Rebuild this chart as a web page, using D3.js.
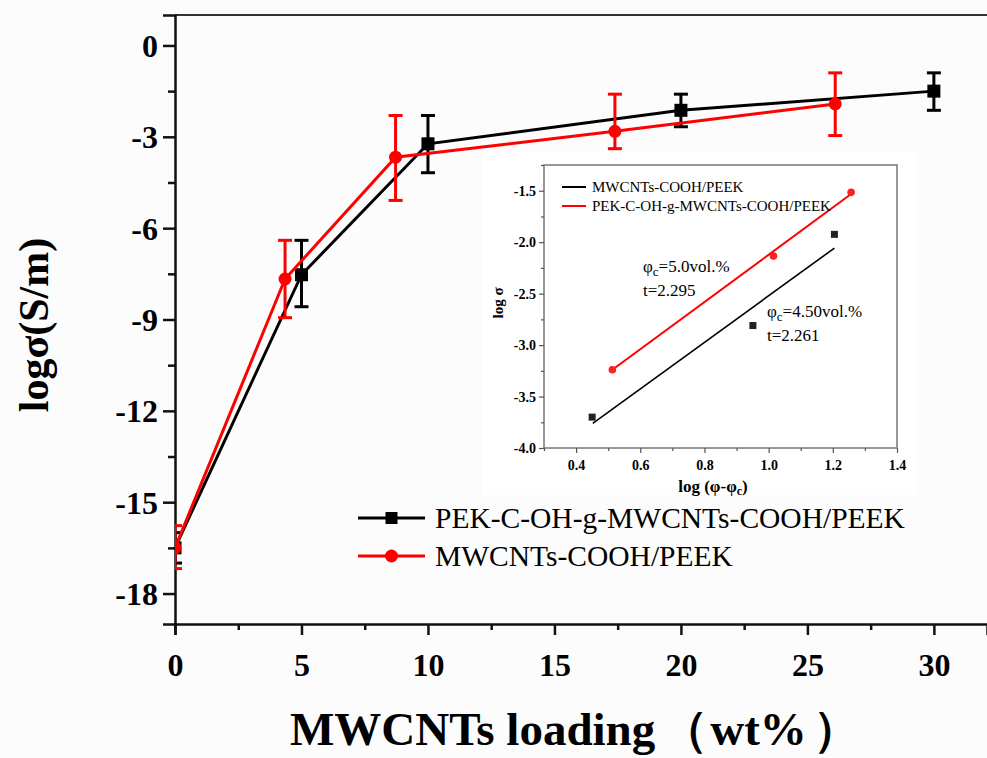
<!DOCTYPE html>
<html>
<head>
<meta charset="utf-8">
<script src="https://cdn.jsdelivr.net/npm/d3@7"></script>
<style>
  html, body { margin: 0; padding: 0; background: #fcfcfc; }
  svg { display: block; }
  text { font-family: "Liberation Serif", "Times New Roman", serif; fill: #000; }
</style>
</head>
<body>
<svg id="chart" width="987" height="758"></svg>
<script>
// ---- main chart data: conductivity vs. filler loading ----
const xTickValues = [0, 5, 10, 15, 20, 25, 30];
const yTickValues = [0, -3, -6, -9, -12, -15, -18];

const graftedLoading = [0, 5, 10, 20, 30];
const graftedLogS    = [-16.5, -7.53, -3.23, -2.13, -1.50];
const graftedErrHigh = [-16.0, -6.40, -2.30, -1.60, -0.90];
const graftedErrLow  = [-17.0, -8.58, -4.18, -2.67, -2.13];

const plainLoading = [0, 4.35, 8.72, 17.39, 26.1];
const plainLogS    = [-16.5, -7.67, -3.67, -2.82, -1.92];
const plainErrHigh = [-15.77, -6.40, -2.30, -1.60, -0.90];
const plainErrLow  = [-17.18, -8.94, -5.09, -3.39, -2.96];

const seriesNames = ["PEK-C-OH-g-MWCNTs-COOH/PEEK", "MWCNTs-COOH/PEEK"];

// ---- inset data: percolation fit log σ vs log(φ-φc) ----
const insetXTicks = [0.4, 0.6, 0.8, 1.0, 1.2, 1.4];
const insetYTicks = [-1.5, -2.0, -2.5, -3.0, -3.5, -4.0];
const insetNames = ["MWCNTs-COOH/PEEK", "PEK-C-OH-g-MWCNTs-COOH/PEEK"];

const insetBlackX = [0.45, 0.951, 1.205];
const insetBlackY = [-3.70, -2.81, -1.924];
const insetRedX   = [0.513, 1.015, 1.257];
const insetRedY   = [-3.24, -2.135, -1.516];

const fitExponent  = [2.261, 2.295];     // t
const fitIntercept = [-4.782, -4.417];
const fitRangeX    = [[0.452, 1.205], [0.513, 1.257]];
const fitPhiC      = ["4.50", "5.0"];

const svg = d3.select("#chart");

// plain hyphen for negative numbers
const intLabel = d => String(d);
const oneDecimal = d => d.toFixed(1);

// ---- main scales ----
const x = d3.scaleLinear().domain([0, 32.1]).range([175, 987]);
const y = d3.scaleLinear().domain([-19, 1]).range([624, 15]);

const clipId = "plotClip";
svg.append("clipPath").attr("id", clipId)
  .append("rect").attr("x", 175).attr("y", 15).attr("width", 812).attr("height", 609);

// frame (top line)
svg.append("line").attr("x1", 175).attr("x2", 987).attr("y1", 15).attr("y2", 15)
  .attr("stroke", "#333").attr("stroke-width", 2);

// axes
const yAxis = d3.axisLeft(y).tickValues(yTickValues).tickSize(12).tickFormat(intLabel);
const yMinor = d3.axisLeft(y).tickValues(d3.range(-1.5, -18, -3)).tickSize(7).tickFormat("");
const xAxis = d3.axisBottom(x).tickValues(xTickValues).tickSize(11).tickFormat(intLabel);
const xMinor = d3.axisBottom(x).tickValues(d3.range(2.5, 32, 5)).tickSize(6).tickFormat("");

function styleAxis(g) {
  g.select(".domain").attr("stroke", "#111").attr("stroke-width", 2.5);
  g.selectAll(".tick line").attr("stroke", "#111").attr("stroke-width", 2.5);
}

const gy = svg.append("g").attr("transform", "translate(175,0)").call(yAxis).call(styleAxis);
gy.selectAll(".tick text").attr("font-size", 32).attr("font-weight", "bold")
  .attr("font-family", "Liberation Serif").attr("x", -17).attr("dy", "0.34em");
svg.append("g").attr("transform", "translate(175,0)").call(yMinor).call(styleAxis)
  .select(".domain").remove();

const gx = svg.append("g").attr("transform", "translate(0,624)").call(xAxis).call(styleAxis);
gx.selectAll(".tick text").attr("font-size", 32).attr("font-weight", "bold")
  .attr("font-family", "Liberation Serif").attr("y", 29).attr("dy", "0.71em");
svg.append("g").attr("transform", "translate(0,624)").call(xMinor).call(styleAxis)
  .select(".domain").remove();

// axis titles
svg.append("text").attr("transform", "translate(48,325) rotate(-90)")
  .attr("text-anchor", "middle").attr("font-size", 42).attr("font-weight", "bold")
  .text("logσ(S/m)");
const xt = svg.append("text").attr("x", 290).attr("y", 745)
  .attr("font-size", 47).attr("font-weight", "bold");
xt.append("tspan").text("MWCNTs loading");
xt.append("tspan").attr("dx", 6).text("（");
xt.append("tspan").attr("dx", 2).text("wt%");
xt.append("tspan").attr("dx", 6).text("）");

// ---- series ----
function buildSeries(xs, ys, hi, lo) {
  return xs.map((v, i) => ({ x: v, y: ys[i], hi: hi[i], lo: lo[i] }));
}
const grafted = buildSeries(graftedLoading, graftedLogS, graftedErrHigh, graftedErrLow);
const plain = buildSeries(plainLoading, plainLogS, plainErrHigh, plainErrLow);

const plot = svg.append("g").attr("clip-path", `url(#${clipId})`);
const line = d3.line().x(d => x(d.x)).y(d => y(d.y));
const cap = 7;

function drawSeries(data, color, marker) {
  const g = plot.append("g");
  g.append("path").datum(data).attr("d", line)
    .attr("fill", "none").attr("stroke", color).attr("stroke-width", 3);
  const eb = g.selectAll(".eb").data(data).join("g")
    .attr("stroke", color).attr("stroke-width", 3);
  eb.append("line").attr("x1", d => x(d.x)).attr("x2", d => x(d.x))
    .attr("y1", d => y(d.hi)).attr("y2", d => y(d.lo));
  eb.append("line").attr("x1", d => x(d.x) - cap).attr("x2", d => x(d.x) + cap)
    .attr("y1", d => y(d.hi)).attr("y2", d => y(d.hi));
  eb.append("line").attr("x1", d => x(d.x) - cap).attr("x2", d => x(d.x) + cap)
    .attr("y1", d => y(d.lo)).attr("y2", d => y(d.lo));
  if (marker === "square") {
    g.selectAll(".m").data(data).join("rect")
      .attr("x", d => x(d.x) - 6.5).attr("y", d => y(d.y) - 6.5)
      .attr("width", 13).attr("height", 13).attr("fill", color);
  } else {
    g.selectAll(".m").data(data).join("circle")
      .attr("cx", d => x(d.x)).attr("cy", d => y(d.y)).attr("r", 6.5).attr("fill", color);
  }
}
drawSeries(grafted, "#000", "square");
drawSeries(plain, "#ff0000", "circle");

// ---- main legend ----
const legend = svg.append("g");
const legendRows = [
  { name: seriesNames[0], color: "#000", marker: "square", y: 518 },
  { name: seriesNames[1], color: "#ff0000", marker: "circle", y: 556 }
];
legendRows.forEach(r => {
  legend.append("line").attr("x1", 358).attr("x2", 425).attr("y1", r.y).attr("y2", r.y)
    .attr("stroke", r.color).attr("stroke-width", 3);
  if (r.marker === "square") {
    legend.append("rect").attr("x", 391.5 - 6).attr("y", r.y - 6).attr("width", 12).attr("height", 12)
      .attr("fill", r.color);
  } else {
    legend.append("circle").attr("cx", 391.5).attr("cy", r.y).attr("r", 6.5).attr("fill", r.color);
  }
  legend.append("text").attr("x", 435).attr("y", r.y + 10).attr("font-size", 29.5)
    .attr("fill", "#111").text(r.name);
});

// ---- inset ----
const inset = svg.append("g");
inset.append("rect").attr("x", 482).attr("y", 152).attr("width", 435).attr("height", 343)
  .attr("fill", "#fff");

const ix = d3.scaleLinear().domain([0.3, 1.4]).range([544, 897]);
const iy = d3.scaleLinear().domain([-4, -1.25]).range([448, 165]);

inset.append("rect").attr("x", 544).attr("y", 165).attr("width", 353).attr("height", 283)
  .attr("fill", "none").attr("stroke", "#777").attr("stroke-width", 1.5);

function styleInsetAxis(g) {
  g.select(".domain").remove();
  g.selectAll(".tick line").attr("stroke", "#555").attr("stroke-width", 1.2);
}
const iyAxis = d3.axisLeft(iy).tickValues(insetYTicks).tickSize(5).tickFormat(oneDecimal);
const iyMinor = d3.axisLeft(iy).tickValues(d3.range(-1.25, -4, -0.5)).tickSize(3).tickFormat("");
const ixAxis = d3.axisBottom(ix).tickValues(insetXTicks).tickSize(5).tickFormat(oneDecimal);
const ixMinor = d3.axisBottom(ix).tickValues(d3.range(0.3, 1.35, 0.2)).tickSize(3).tickFormat("");

const giy = inset.append("g").attr("transform", "translate(544,0)").call(iyAxis).call(styleInsetAxis);
giy.selectAll(".tick text").attr("font-size", 14).attr("font-weight", "bold")
  .attr("font-family", "Liberation Serif").attr("fill", "#222").attr("x", -8);
inset.append("g").attr("transform", "translate(544,0)").call(iyMinor).call(styleInsetAxis);
const gix = inset.append("g").attr("transform", "translate(0,448)").call(ixAxis).call(styleInsetAxis);
gix.selectAll(".tick text").attr("font-size", 14).attr("font-weight", "bold")
  .attr("font-family", "Liberation Serif").attr("fill", "#222").attr("y", 12);
inset.append("g").attr("transform", "translate(0,448)").call(ixMinor).call(styleInsetAxis);

// inset axis titles
inset.append("text").attr("transform", "translate(503,303) rotate(-90)")
  .attr("text-anchor", "middle").attr("font-size", 15).attr("font-weight", "bold")
  .attr("fill", "#222").text("log σ");
const ixt = inset.append("text").attr("x", 713).attr("y", 492)
  .attr("text-anchor", "middle").attr("font-size", 17).attr("font-weight", "bold").attr("fill", "#222");
ixt.append("tspan").text("log (φ-φ");
ixt.append("tspan").attr("font-size", 12).attr("dy", 3).text("c");
ixt.append("tspan").attr("dy", -3).text(")");

// fit lines
const fitColors = ["#000", "#ff0000"];
fitExponent.forEach((t, i) => {
  const [x0, x1] = fitRangeX[i];
  inset.append("line")
    .attr("x1", ix(x0)).attr("y1", iy(fitIntercept[i] + t * x0))
    .attr("x2", ix(x1)).attr("y2", iy(fitIntercept[i] + t * x1))
    .attr("stroke", fitColors[i]).attr("stroke-width", i === 0 ? 1.6 : 2);
});

// inset points
inset.selectAll(".ib").data(insetBlackX.map((v, i) => [v, insetBlackY[i]])).join("rect")
  .attr("x", d => ix(d[0]) - 3.5).attr("y", d => iy(d[1]) - 3.5)
  .attr("width", 7).attr("height", 7).attr("fill", "#222");
inset.selectAll(".ir").data(insetRedX.map((v, i) => [v, insetRedY[i]])).join("circle")
  .attr("cx", d => ix(d[0])).attr("cy", d => iy(d[1])).attr("r", 3.8).attr("fill", "#ff2020");

// inset legend
insetNames.forEach((name, i) => {
  const ly = 187 + i * 19;
  inset.append("line").attr("x1", 562).attr("x2", 586).attr("y1", ly).attr("y2", ly)
    .attr("stroke", fitColors[i]).attr("stroke-width", 2);
  inset.append("text").attr("x", 592).attr("y", ly + 5).attr("font-size", 15)
    .attr("fill", "#222").text(name);
});

// fit annotations
const notes = [
  { i: 1, x: 643, y: 272 },
  { i: 0, x: 767, y: 317 }
];
notes.forEach(n => {
  const t1 = inset.append("text").attr("x", n.x).attr("y", n.y).attr("font-size", 17).attr("fill", "#333");
  t1.append("tspan").text("φ");
  t1.append("tspan").attr("font-size", 13).attr("dy", 4).text("c");
  t1.append("tspan").attr("dy", -4).text("=" + fitPhiC[n.i] + "vol.%");
  inset.append("text").attr("x", n.x).attr("y", n.y + 24).attr("font-size", 17).attr("fill", "#333")
    .text("t=" + fitExponent[n.i].toFixed(3));
});
</script>
</body>
</html>
